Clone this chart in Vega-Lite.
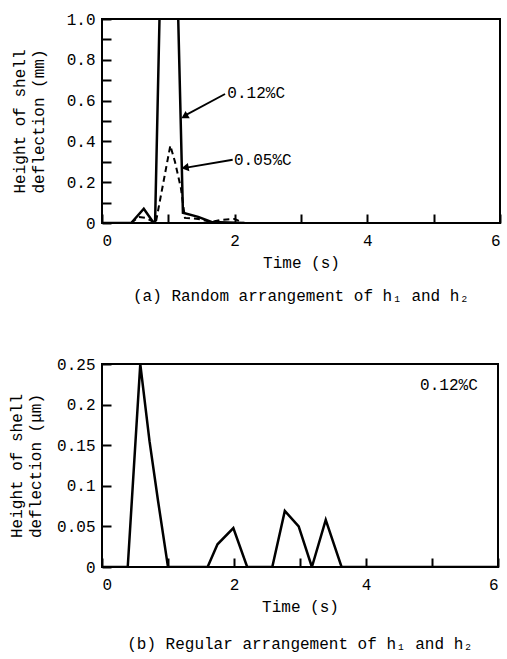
{
  "$schema": "https://vega.github.io/schema/vega-lite/v6.json",
  "background": "white",
  "padding": {"left": 7, "top": 10, "right": 2, "bottom": 2},
  "config": {
    "font": "Liberation Mono",
    "view": {"stroke": "black", "strokeWidth": 2},
    "axis": {
      "domain": false,
      "grid": false,
      "ticks": true,
      "tickSize": -9,
      "tickColor": "black",
      "tickWidth": 2,
      "labelFont": "Liberation Mono",
      "labelFontSize": 16,
      "labelColor": "black",
      "titleFont": "Liberation Mono",
      "titleFontSize": 16,
      "titleFontWeight": "normal",
      "titleColor": "black",
      "titleLineHeight": 19
    },
    "axisX": {"labelPadding": 18, "titlePadding": 6},
    "axisY": {"labelPadding": 16},
    "title": {"font": "Liberation Mono", "fontSize": 16, "fontWeight": "normal", "color": "black"}
  },
  "datasets": {
    "top": [
      {"series": "0.12%C", "t": 0.0, "h": 0.0},
      {"series": "0.12%C", "t": 0.44, "h": 0.0},
      {"series": "0.12%C", "t": 0.63, "h": 0.07},
      {"series": "0.12%C", "t": 0.78, "h": 0.0},
      {"series": "0.12%C", "t": 0.8, "h": 0.0},
      {"series": "0.12%C", "t": 1.0, "h": 3.0},
      {"series": "0.12%C", "t": 1.22, "h": 0.05},
      {"series": "0.12%C", "t": 1.45, "h": 0.03},
      {"series": "0.12%C", "t": 1.65, "h": 0.005},
      {"series": "0.12%C", "t": 2.15, "h": 0.0},
      {"series": "0.05%C", "t": 0.44, "h": 0.0},
      {"series": "0.05%C", "t": 0.55, "h": 0.03},
      {"series": "0.05%C", "t": 0.66, "h": 0.025},
      {"series": "0.05%C", "t": 0.81, "h": 0.0},
      {"series": "0.05%C", "t": 1.03, "h": 0.38},
      {"series": "0.05%C", "t": 1.1, "h": 0.3},
      {"series": "0.05%C", "t": 1.19, "h": 0.17},
      {"series": "0.05%C", "t": 1.25, "h": 0.025},
      {"series": "0.05%C", "t": 1.45, "h": 0.02},
      {"series": "0.05%C", "t": 1.65, "h": 0.005},
      {"series": "0.05%C", "t": 1.78, "h": 0.015},
      {"series": "0.05%C", "t": 2.0, "h": 0.02},
      {"series": "0.05%C", "t": 2.13, "h": 0.0}
    ],
    "bottom": [
      {"t": 0.0, "h": 0.0},
      {"t": 0.39, "h": 0.0},
      {"t": 0.58, "h": 0.25},
      {"t": 0.72, "h": 0.155},
      {"t": 0.85, "h": 0.081},
      {"t": 1.0, "h": 0.0},
      {"t": 1.6, "h": 0.0},
      {"t": 1.75, "h": 0.028},
      {"t": 1.99, "h": 0.048},
      {"t": 2.2, "h": 0.0},
      {"t": 2.58, "h": 0.0},
      {"t": 2.77, "h": 0.069},
      {"t": 2.98, "h": 0.05},
      {"t": 3.18, "h": 0.0},
      {"t": 3.39, "h": 0.058},
      {"t": 3.63, "h": 0.0},
      {"t": 6.0, "h": 0.0}
    ]
  },
  "spacing": 50,
  "vconcat": [
    {
      "width": 398,
      "height": 204,
      "title": {"text": "(a) Random arrangement of h₁ and h₂", "orient": "bottom", "anchor": "middle", "offset": 18},
      "encoding": {
        "x": {"field": "t", "type": "quantitative", "scale": {"domain": [0, 6], "nice": false},
              "axis": {"title": "Time (s)", "values": [0, 1, 2, 3, 4, 5, 6], "labelExpr": "datum.value % 2 == 0 ? datum.label : ''"}},
        "y": {"field": "h", "type": "quantitative", "scale": {"domain": [0, 1], "nice": false},
              "axis": {"title": ["Height of shell", "deflection (mm)"], "values": [0, 0.1, 0.2, 0.3, 0.4, 0.5, 0.6, 0.7, 0.8, 0.9, 1.0], "format": ".1f",
                       "labelExpr": "datum.value == 0 ? '0' : (round(datum.value * 10) % 2 == 0 ? datum.label : '')", "titlePadding": 20}}
      },
      "layer": [
        {
          "data": {"name": "top"},
          "transform": [{"filter": "datum.series == '0.12%C'"}],
          "mark": {"type": "line", "color": "black", "strokeWidth": 2.5, "clip": true}
        },
        {
          "data": {"name": "top"},
          "transform": [{"filter": "datum.series == '0.05%C'"}],
          "mark": {"type": "line", "color": "black", "strokeWidth": 2, "strokeDash": [6, 4], "clip": true}
        },
        {
          "data": {"values": [{"t": 1.855, "h": 0.632, "t2": 1.24, "h2": 0.525}]},
          "mark": {"type": "rule", "color": "black", "strokeWidth": 1.8},
          "encoding": {"x2": {"field": "t2"}, "y2": {"field": "h2"}}
        },
        {
          "data": {"values": [{"t": 1.97, "h": 0.31, "t2": 1.25, "h2": 0.27}]},
          "mark": {"type": "rule", "color": "black", "strokeWidth": 1.8},
          "encoding": {"x2": {"field": "t2"}, "y2": {"field": "h2"}}
        },
        {
          "data": {"values": [{"t": 1.26, "h": 0.525}]},
          "mark": {"type": "point", "shape": "triangle", "angle": 240, "filled": true, "color": "black", "size": 70, "opacity": 1}
        },
        {
          "data": {"values": [{"t": 1.27, "h": 0.272}]},
          "mark": {"type": "point", "shape": "triangle", "angle": 260, "filled": true, "color": "black", "size": 70, "opacity": 1}
        },
        {
          "data": {"values": [{"label": "0.12%C", "t": 1.89, "h": 0.635}, {"label": "0.05%C", "t": 1.99, "h": 0.31}]},
          "mark": {"type": "text", "align": "left", "baseline": "middle", "fontSize": 16, "color": "black", "font": "Liberation Mono"},
          "encoding": {"text": {"field": "label"}}
        }
      ]
    },
    {
      "width": 396,
      "height": 203,
      "title": {"text": "(b) Regular arrangement of h₁ and h₂", "orient": "bottom", "anchor": "middle", "offset": 22},
      "encoding": {
        "x": {"field": "t", "type": "quantitative", "scale": {"domain": [0, 6], "nice": false},
              "axis": {"title": "Time (s)", "values": [0, 1, 2, 3, 4, 5, 6], "labelExpr": "datum.value % 2 == 0 ? datum.label : ''"}},
        "y": {"field": "h", "type": "quantitative", "scale": {"domain": [0, 0.25], "nice": false},
              "axis": {"title": ["Height of shell", "deflection (μm)"], "values": [0, 0.05, 0.1, 0.15, 0.2, 0.25], "format": "~g", "titlePadding": 13}}
      },
      "layer": [
        {
          "data": {"name": "bottom"},
          "mark": {"type": "line", "color": "black", "strokeWidth": 2.5, "clip": true}
        },
        {
          "data": {"values": [{"label": "0.12%C", "t": 4.82, "h": 0.224}]},
          "mark": {"type": "text", "align": "left", "baseline": "middle", "fontSize": 16, "color": "black", "font": "Liberation Mono"},
          "encoding": {"text": {"field": "label"}}
        }
      ]
    }
  ]
}
